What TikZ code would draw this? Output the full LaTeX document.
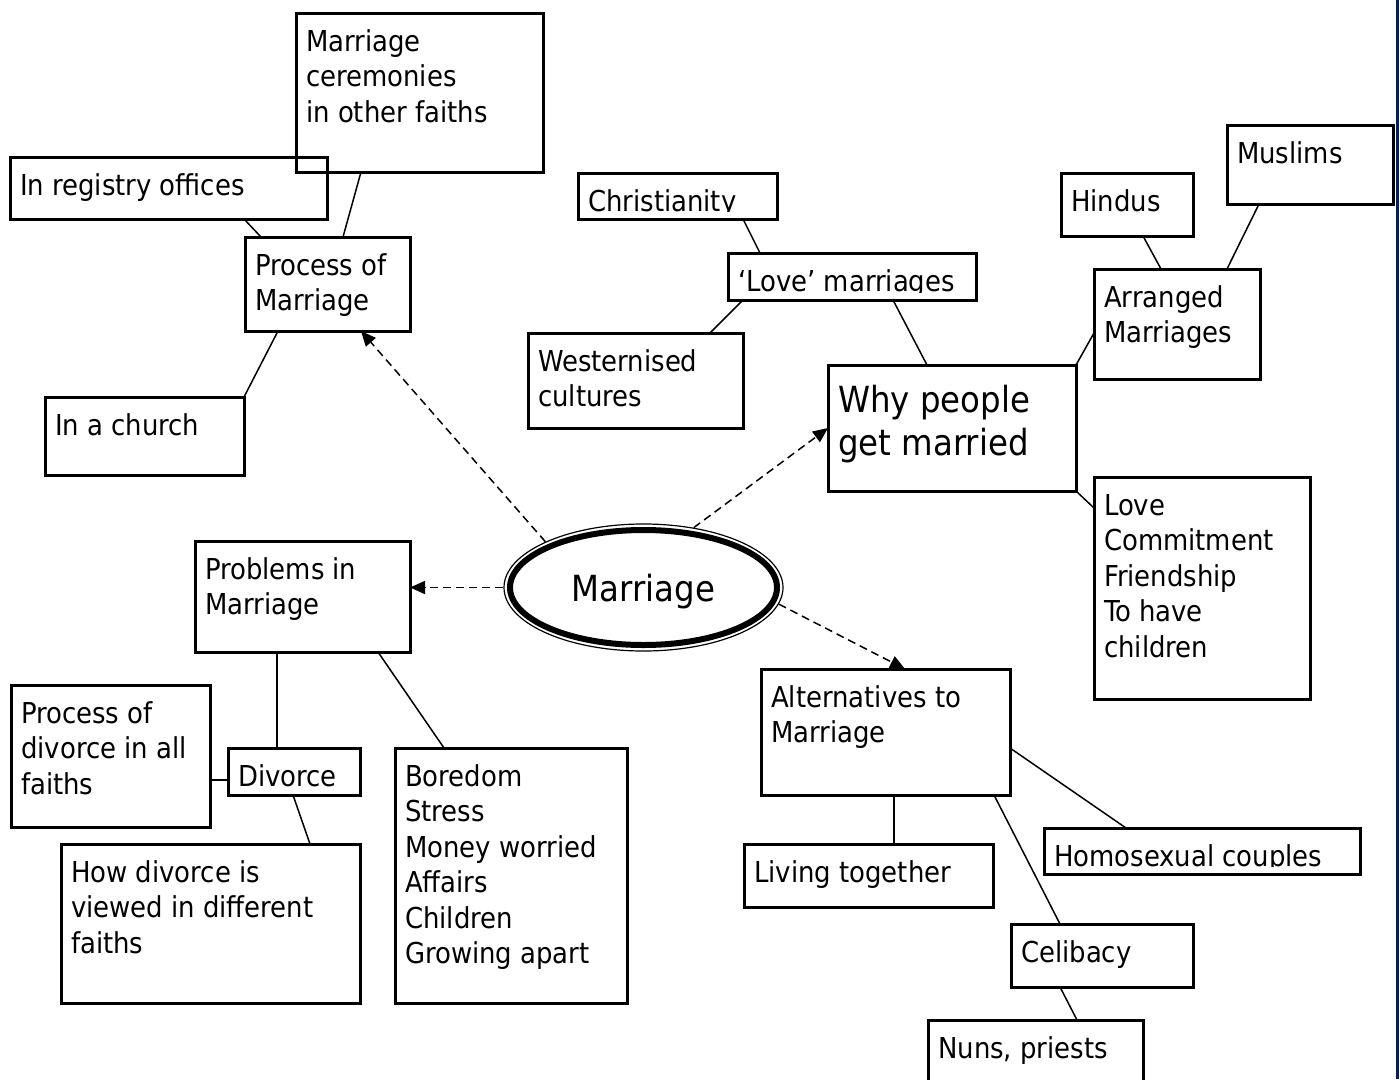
\documentclass[tikz,border=0pt]{standalone}
\usepackage{fontspec}
\setmainfont{DejaVu Sans Condensed}
\usetikzlibrary{shapes.geometric,arrows.meta,calc}

% colours and fonts
\definecolor{edgeblue}{RGB}{0,32,96}
\newcommand{\bodyfont}{\fontsize{28.8}{35.5}\selectfont}
\newcommand{\bigfont}{\fontsize{36}{43}\selectfont}

\tikzset{
  box/.style={draw, line width=3pt, anchor=north west, inner sep=0pt, outer sep=0pt},
  boxtext/.style={anchor=base west, inner sep=0pt, font=\bodyfont},
  link/.style={line width=1.5pt},
  pointer/.style={line width=1.5pt, dash pattern=on 8pt off 5pt,
    -{Triangle[length=15pt,width=13pt]}},
}

% box from corner (x1,y1) to (x2,y2), text clipped to the box
\newcommand{\mapbox}[7][]{%
  \node[box, minimum width=#5pt-#3pt, minimum height=#6pt-#4pt] (#2) at (#3,#4) {};
  \begin{scope}
    \clip (#2.north west) rectangle ([yshift=8pt]#2.south east);
    \node[boxtext,#1] (#2-text) at ([xshift=10pt,yshift=-38pt]#2.north west)
      {\begin{tabular}[t]{@{}l@{}}#7\end{tabular}};
  \end{scope}}

\begin{document}
\begin{tikzpicture}[x=1pt,y=-1pt]
  % page
  \fill[white] (0,0) rectangle (1400,1079);
  \useasboundingbox (0,0) rectangle (1400,1079);
  \draw[edgeblue, line width=3pt] (1397.5,0) -- (1397.5,1079);

  % centre
  \node[ellipse, draw, line width=1.2pt, inner sep=0pt, minimum width=279pt,
    minimum height=127pt] (marr) at (643.5,587.5) {};
  \draw[line width=6pt] (marr.center) ellipse [x radius=133.5pt, y radius=57.5pt];
  \node[font=\bigfont, anchor=base] (marr-text) at ([yshift=-14pt]marr.center) {Marriage};

  % process of marriage
  \mapbox{cerem}{296}{13}{543}{172}{Marriage\\ceremonies\\in other faiths}
  \mapbox{registry}{10}{157}{327}{219}{In registry offices}
  \mapbox{procm}{245}{237}{410}{331}{Process of\\Marriage}
  \mapbox{church}{45}{397}{244}{475}{In a church}

  % problems
  \mapbox{problems}{195}{541}{410}{652}{Problems in\\Marriage}
  \mapbox{procdiv}{11}{685}{210}{827}{Process of\\divorce in all\\faiths}
  \mapbox{divorce}{228}{748}{360}{795}{Divorce}
  \mapbox{howdiv}{61}{844}{360}{1003}{How divorce is\\viewed in different\\faiths}
  \mapbox{boredom}{395}{748}{627}{1003}{Boredom\\Stress\\Money worried\\Affairs\\Children\\Growing apart}

  % why people get married
  \mapbox{christ}{578}{173}{777}{219}{Christianity}
  \mapbox{love}{728}{253}{976}{300}{‘Love’ marriages}
  \mapbox{western}{528}{333}{743}{428}{Westernised\\cultures}
  \mapbox[font=\bigfont, yshift=-9pt]{why}{828}{365}{1076}{491}{Why people\\get married}
  \mapbox{arranged}{1094}{269}{1260}{379}{Arranged\\Marriages}
  \mapbox{hindus}{1061}{173}{1193}{236}{Hindus}
  \mapbox{muslims}{1227}{125}{1393}{204}{Muslims}
  \mapbox{reasons}{1094}{477}{1310}{699}{Love\\Commitment\\Friendship\\To have\\children}

  % alternatives
  \mapbox{altern}{761}{669}{1010}{795}{Alternatives to\\Marriage}
  \mapbox{living}{744}{844}{993}{907}{Living together}
  \mapbox{homo}{1044}{828}{1360}{874}{Homosexual couples}
  \mapbox{celib}{1011}{924}{1193}{987}{Celibacy}
  \mapbox{nuns}{928}{1020}{1143}{1090}{Nuns, priests}

  % solid links
  \draw[link] ([xshift=98pt]procm.north west) -- ([xshift=65pt]cerem.south west);
  \draw[link] ([xshift=16pt]procm.north west) -- ([xshift=-83pt]registry.south east);
  \draw[link] ([xshift=33pt]procm.south west) -- (church.north east);
  \draw[link] ([xshift=82pt]problems.south west) -- ([xshift=49pt]divorce.north west);
  \draw[link] ([xshift=183pt]problems.south west) -- ([xshift=49pt]boredom.north west);
  \coordinate (dv) at ([yshift=15pt]divorce.south west);
  \draw[link] (procdiv.east |- dv) -- (dv);
  \draw[link] ([xshift=65pt]divorce.south west) -- ([xshift=249pt]howdiv.north west);
  \draw[link] ([xshift=-34pt]christ.south east) -- ([xshift=32pt]love.north west);
  \draw[link] ([xshift=15pt]love.south west) -- ([xshift=-33pt]western.north east);
  \draw[link] ([xshift=165pt]love.south west) -- ([xshift=99pt]why.north west);
  \draw[link] (why.north east) -- ([yshift=-64pt]arranged.north west);
  \draw[link] ([xshift=82pt]hindus.south west) -- ([xshift=67pt]arranged.north west);
  \draw[link] ([xshift=32pt]muslims.south west) -- ([xshift=-33pt]arranged.north east);
  \draw[link] (why.south east) -- ([yshift=-31pt]reasons.north west);
  \draw[link] ([xshift=133pt]altern.south west) -- ([xshift=150pt]living.north west);
  \draw[link] ([xshift=-16pt]altern.south east) -- ([xshift=49pt]celib.north west);
  \draw[link] ([yshift=-79pt]altern.north east) -- ([xshift=82pt]homo.north west);
  \draw[link] ([xshift=49pt]celib.south west) -- ([xshift=149pt]nuns.north west);

  % dashed pointers from the centre
  \draw[pointer] (marr.155) -- ([xshift=116pt]procm.south west);
  \draw[pointer] (marr.west) -- (marr.west -| problems.east);
  \draw[pointer] (marr.50) -- (why.west);
  \draw[pointer] (marr.-7) -- ([xshift=144pt]altern.north west);
\end{tikzpicture}
\end{document}
